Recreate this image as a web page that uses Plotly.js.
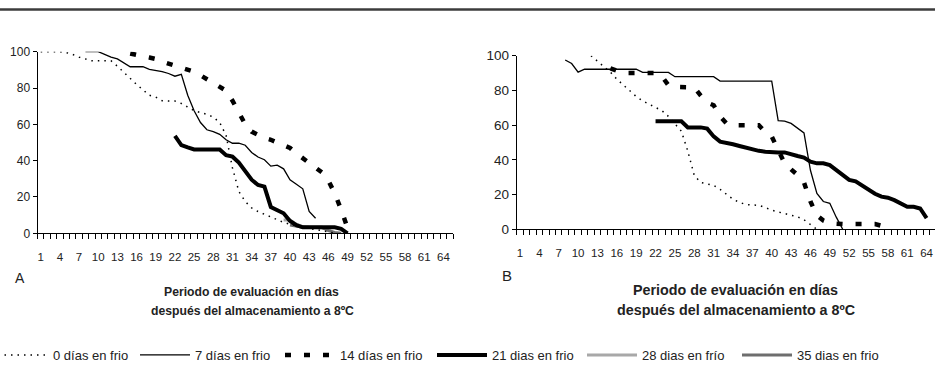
<!DOCTYPE html>
<html>
<head>
<meta charset="utf-8">
<script src="https://cdn.plot.ly/plotly-3.0.1.min.js"></script>
<style>
html,body{margin:0;padding:0;background:#fff;overflow:hidden;}
#chart{width:935px;height:381px;}
</style>
</head>
<body>
<div id="chart"></div>
<script>
// Categories: days of evaluation after storage at 8ºC
const days = [1,2,3,4,5,6,7,8,9,10,11,12,13,14,15,16,17,18,19,20,21,22,23,24,25,26,27,28,29,30,31,32,33,34,35,36,37,38,39,40,41,42,43,44,45,46,47,48,49,50,51,52,53,54,55,56,57,58,59,60,61,62,63,64,65];
const tickDays = [1,4,7,10,13,16,19,22,25,28,31,34,37,40,43,46,49,52,55,58,61,64];
const tickLabels = ["1","4","7","10","13","16","19","22","25","28","31","34","37","40","43","46","49","52","55","58","61","64"];
const yTicks = [0,20,40,60,80,100];
const seriesNames = ["0 días en frio","7 días en frio","14 días en frio","21 dias en frio","28 dias en frío","35 dias en frio"];
const N = null;

// Panel A
const A_0d = [100,100,100,100,99.5,98.5,97,95.8,95,95,95,95,92,88.5,85,82,79,76,75,73,72.8,72.8,71.5,69.5,67.5,66.5,65.5,64,61,54,36,23,17.5,14,12,10.5,9,7.2,6,5,4,3.3,2.7,2.2,1.5,0.8,0,N,N,N,N,N,N,N,N,N,N,N,N,N,N,N,N,N,N];
const A_7d = [N,N,N,N,N,N,N,100,100,100,98.5,97,96,94,91.7,91.7,91.7,90.3,89.8,89,88,86.5,87.5,76,67.5,61,57,56,54.5,51.5,49.6,49.6,48.5,44.5,42,40.5,37,37.5,35.5,29.4,27,24.5,12,8.3,N,N,N,N,N,N,N,N,N,N,N,N,N,N,N,N,N,N,N,N,N];
const A_14d = [N,N,N,N,N,N,N,N,N,N,N,N,N,N,99,98.5,97.5,96.8,96,94.5,93.5,92,91,90.3,89,87,85,82.5,80.5,78.5,73,66,60,56,54,52.5,51.5,50,48.5,47,44,41.5,39,36,33.5,29,22,13,3,N,N,N,N,N,N,N,N,N,N,N,N,N,N,N,N];
const A_21d = [N,N,N,N,N,N,N,N,N,N,N,N,N,N,N,N,N,N,N,N,N,53.6,48.6,47.3,46.2,46.2,46.2,46.2,46.2,43,42.2,39,34,29.5,26.6,25.7,14.5,12.8,11,6.8,4.5,3.3,3.3,3.3,3.3,3.3,3.3,2.5,0,N,N,N,N,N,N,N,N,N,N,N,N,N,N,N,N];
const A_28d = [N,N,N,N,N,N,N,N,N,N,N,N,N,N,N,N,N,N,N,N,N,N,N,N,N,N,N,N,N,N,N,N,N,N,N,N,N,N,7.3,7.3,5,3.7,3.3,3.3,3,2,0,N,N,N,N,N,N,N,N,N,N,N,N,N,N,N,N,N,N];
const A_35d = [N,N,N,N,N,N,N,N,N,N,N,N,N,N,N,N,N,N,N,N,N,N,N,N,N,N,N,N,N,N,N,N,N,N,N,N,N,N,N,4.5,3.7,3.3,3.3,3.3,3.3,1.5,0.5,0,N,N,N,N,N,N,N,N,N,N,N,N,N,N,N,N,N];

// Panel B
const B_0d = [N,N,N,N,N,N,N,N,N,N,N,100,97,93.5,90.5,86.5,83,79.5,76.5,74,72,70,68.3,65,61,56.5,45,31,27,26,25.3,23,20,17.3,15.5,14.3,14,13.8,12.5,11,10,9,8,7.2,5.5,3,0,N,N,N,N,N,N,N,N,N,N,N,N,N,N,N,N,N,N];
const B_7d = [N,N,N,N,N,N,N,97.5,95.5,90.5,92.2,92.2,92.2,92.2,92.2,92.2,92.2,92.2,92.2,90.4,90.4,90.4,90.4,90.4,87.9,87.9,87.9,87.9,87.9,87.9,87.9,85.4,85.4,85.4,85.4,85.4,85.4,85.4,85.4,85.4,62.6,62.3,61,58.5,55.5,34,20.7,16,15,7,0,N,N,N,N,N,N,N,N,N,N,N,N,N,N];
const B_14d = [N,N,N,N,N,N,N,N,N,N,N,N,N,N,92.7,91,90,90,90,90,90,90,88,83,82,81.8,81.8,81.8,77,73,71.5,65,61,60,60,60,60,60,56,53.5,45.7,38,34.5,31.3,27,16,8,5,3.5,3,3,3,3,3,3,3,2,0,N,N,N,N,N,N,N];
const B_21d = [N,N,N,N,N,N,N,N,N,N,N,N,N,N,N,N,N,N,N,N,N,62.2,62.2,62.2,62.2,62.2,58.7,58.7,58.7,58,53.5,50.5,50,49,48,47,46.2,45.2,44.7,44.3,44.3,44.3,43.5,42.2,41.3,39,38,38,37,34,31.5,28.5,27.6,25,23,20.5,18.8,18.2,16.8,15,13,13,12,6.5,N];

const styles = [
  {color:'#000', width:1.5, dash:'1.5px,5px'},
  {color:'#000', width:1.3, dash:'solid'},
  {color:'#000', width:4.5, dash:'6px,13px'},
  {color:'#000', width:4, dash:'solid'},
  {color:'#a8a8a8', width:3, dash:'solid'},
  {color:'#6e6e6e', width:3, dash:'solid'}
];
const legendIds = ['legend','legend2','legend3','legend4','legend5','legend6'];
const panelA = [A_0d, A_7d, A_14d, A_21d, A_28d, A_35d];
const panelB = [B_0d, B_7d, B_14d, B_21d];
const drawOrder = [4,5,0,1,2,3];

const traces = [];
drawOrder.forEach(i => {
  traces.push({x: days, y: panelA[i], type:'scatter', mode:'lines', name: seriesNames[i],
    line: styles[i], xaxis:'x', yaxis:'y', legend: legendIds[i], showlegend:true, hoverinfo:'skip'});
});
drawOrder.forEach(i => {
  if (i < panelB.length) {
    traces.push({x: days, y: panelB[i], type:'scatter', mode:'lines', name: seriesNames[i],
      line: styles[i], xaxis:'x2', yaxis:'y2', showlegend:false, hoverinfo:'skip'});
  }
});

const font = 'Liberation Sans, Arial, sans-serif';
const W = 935, H = 381;
const rangeA = [0.5, 65.5], rangeB = [0.5, 65.3];
// Excel-style tick marks sit on the category boundaries
const boundaries = [0.5].concat(days.map(d => d + 0.5));

function xAxis(domain, range, anchor) {
  return {domain: domain, range: range, anchor: anchor, showline:true, linecolor:'#000', linewidth:1,
    showgrid:false, zeroline:false, tickmode:'array', tickvals: tickDays, ticktext: tickLabels, ticks:'',
    minor:{tickmode:'array', tickvals: boundaries, ticks:'outside', ticklen:5, tickcolor:'#000', tickwidth:1, showgrid:false},
    ticklabelstandoff: 13, tickfont:{family: font, size:11.5, color:'#222'}, fixedrange:true, automargin:false};
}
function yAxis(domain, anchor, fs) {
  return {domain: domain, range:[0,100], anchor: anchor, showline:true, linecolor:'#000', linewidth:1,
    showgrid:false, zeroline:false, tickmode:'array', tickvals: yTicks, ticks:'outside', ticklen:4,
    tickcolor:'#000', tickfont:{family: font, size: fs, color:'#222'}, fixedrange:true, automargin:false};
}

const legendX = [-7, 135, 280, 432, 582, 737];
const layout = {
  width: W, height: H, margin:{l:0,r:0,t:0,b:0, autoexpand:false}, paper_bgcolor:'#fff', plot_bgcolor:'#fff',
  xaxis: xAxis([37.5/W, 453/W], rangeA, 'y'),
  yaxis: yAxis([1-233.3/H, 1-51.7/H], 'x', 12),
  xaxis2: xAxis([516.8/W, 1], rangeB, 'y2'),
  yaxis2: yAxis([1-229.3/H, 1-55.7/H], 'x2', 13.5),
  shapes: [{type:'line', xref:'paper', yref:'paper', x0:0, x1:1, y0:1-9.5/H, y1:1-9.5/H,
    line:{color:'#3c3c3c', width:2.6}}],
  annotations: [
    {text:'A', xref:'paper', yref:'paper', x:20/W, y:1-278/H, showarrow:false, xanchor:'center', yanchor:'middle', font:{family:font, size:14, color:'#222'}},
    {text:'B', xref:'paper', yref:'paper', x:507/W, y:1-275/H, showarrow:false, xanchor:'center', yanchor:'middle', font:{family:font, size:15, color:'#222'}},
    {text:'<b>Periodo de evaluación en días</b>', xref:'paper', yref:'paper', x:251/W, y:1-292/H, showarrow:false, xanchor:'center', yanchor:'middle', font:{family:font, size:12.2, color:'#222'}},
    {text:'<b>después del almacenamiento a 8ºC</b>', xref:'paper', yref:'paper', x:252/W, y:1-311/H, showarrow:false, xanchor:'center', yanchor:'middle', font:{family:font, size:12.2, color:'#222'}},
    {text:'<b>Periodo de evaluación en días</b>', xref:'paper', yref:'paper', x:735/W, y:1-290/H, showarrow:false, xanchor:'center', yanchor:'middle', font:{family:font, size:14.3, color:'#222'}},
    {text:'<b>después del almacenamiento a 8ºC</b>', xref:'paper', yref:'paper', x:735.5/W, y:1-310/H, showarrow:false, xanchor:'center', yanchor:'middle', font:{family:font, size:14.3, color:'#222'}}
  ],
  showlegend: true
};
legendIds.forEach((id, i) => {
  layout[id] = {x: legendX[i]/W, y: 1-355/H, xanchor:'left', yanchor:'middle', orientation:'h',
    bgcolor:'rgba(0,0,0,0)', borderwidth:0, itemwidth:50, itemclick:false, itemdoubleclick:false,
    font:{family: font, size:13, color:'#222'}};
});

Plotly.newPlot('chart', traces, layout, {staticPlot:true, displayModeBar:false});
</script>
</body>
</html>
